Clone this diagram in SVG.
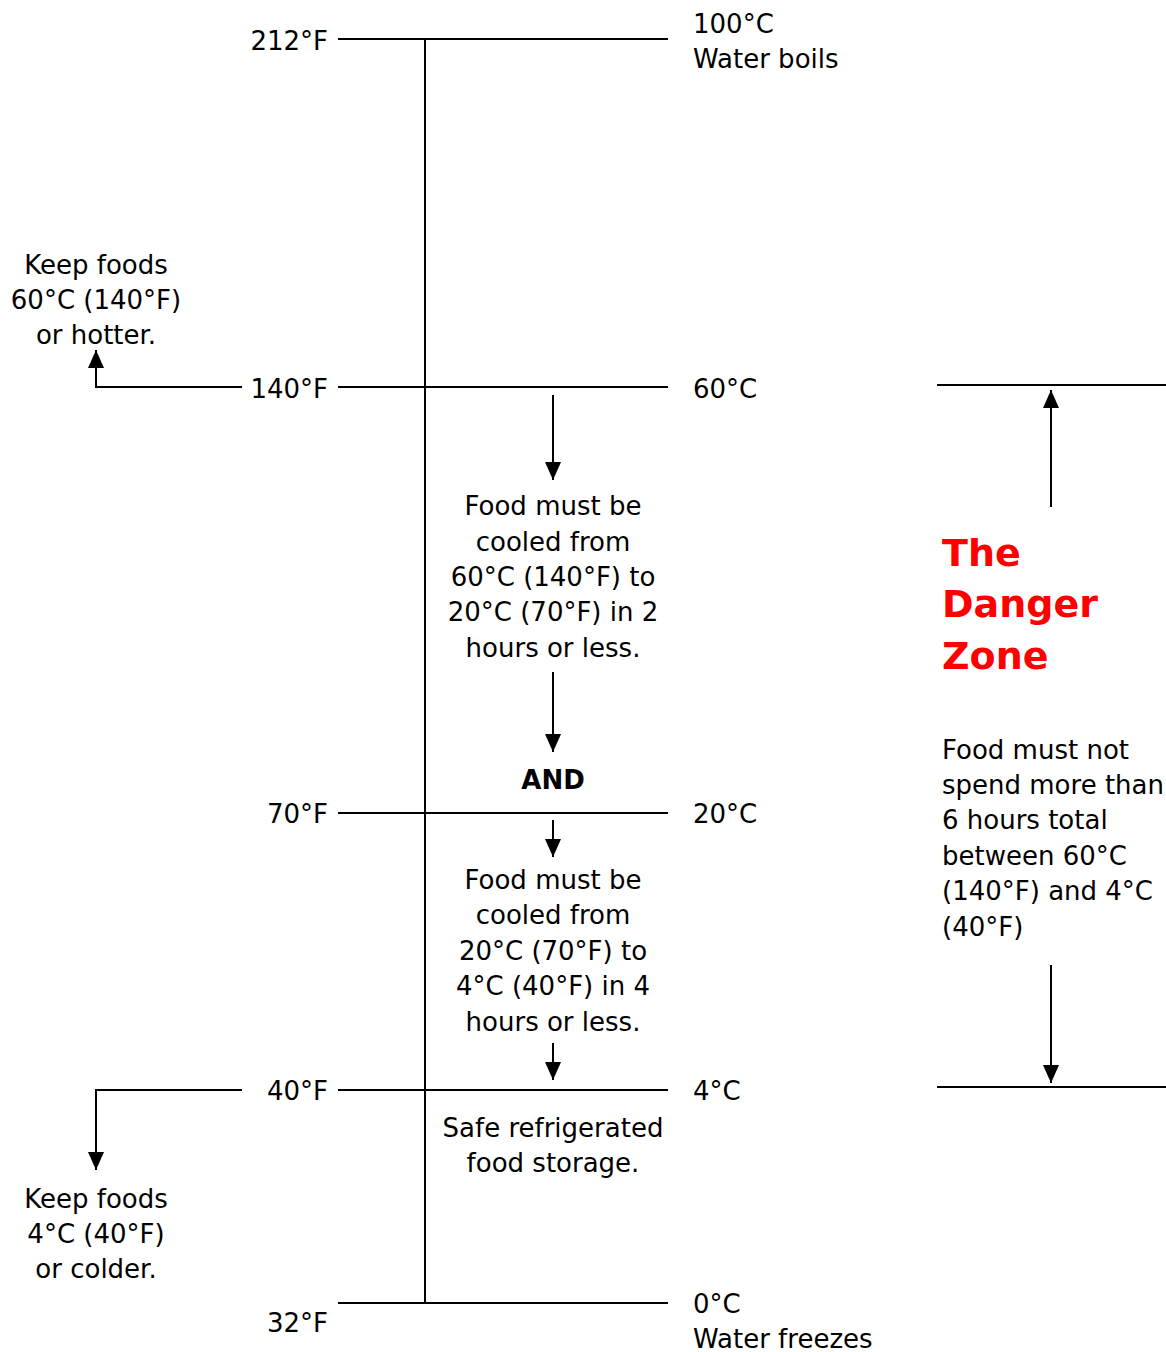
<svg xmlns="http://www.w3.org/2000/svg" width="1166" height="1352" viewBox="0 0 1166 1352">
<style>
.t{font-family:"DejaVu Sans","Verdana",sans-serif;font-size:26px;fill:#000}
.c{text-anchor:middle}
.r{text-anchor:end}
.b{font-weight:bold}
.red{font-family:"DejaVu Sans",sans-serif;font-size:38px;font-weight:bold;fill:#ff0000}
.ln{stroke:#000;stroke-width:2;fill:none}
.ar{stroke:#000;stroke-width:2;fill:none;marker-end:url(#ah)}
</style>
<defs>
<marker id="ah" markerUnits="userSpaceOnUse" markerWidth="18" markerHeight="16" refX="18" refY="8" orient="auto" viewBox="0 0 18 16">
<path d="M0,0 L18,8 L0,16 Z" fill="#000"/>
</marker>
</defs>
<g id="scale">
<line class="ln" x1="425" y1="39" x2="425" y2="1303"/>
<line class="ln" x1="338" y1="39" x2="668" y2="39"/>
<line class="ln" x1="338" y1="387" x2="668" y2="387"/>
<line class="ln" x1="338" y1="813" x2="668" y2="813"/>
<line class="ln" x1="338" y1="1090" x2="668" y2="1090"/>
<line class="ln" x1="338" y1="1303" x2="668" y2="1303"/>
<line class="ln" x1="937" y1="385" x2="1166" y2="385"/>
<line class="ln" x1="937" y1="1087" x2="1166" y2="1087"/>
</g>
<g id="labels-f">
<text class="t r" x="328" y="50">212°F</text>
<text class="t r" x="328" y="398">140°F</text>
<text class="t r" x="328" y="823">70°F</text>
<text class="t r" x="328" y="1100">40°F</text>
<text class="t r" x="328" y="1332">32°F</text>
</g>
<g id="labels-c">
<text class="t" x="693" y="33">100°C</text>
<text class="t" x="693" y="68">Water boils</text>
<text class="t" x="693" y="398">60°C</text>
<text class="t" x="693" y="823">20°C</text>
<text class="t" x="693" y="1100">4°C</text>
<text class="t" x="693" y="1313">0°C</text>
<text class="t" x="693" y="1348">Water freezes</text>
</g>
<g id="keep-hot">
<text class="t c" x="96" y="274">Keep foods</text>
<text class="t c" x="96" y="309">60°C (140°F)</text>
<text class="t c" x="96" y="344">or hotter.</text>
</g>
<g id="keep-cold">
<text class="t c" x="96" y="1208">Keep foods</text>
<text class="t c" x="96" y="1243">4°C (40°F)</text>
<text class="t c" x="96" y="1278">or colder.</text>
</g>
<g id="cool-1">
<text class="t c" x="553" y="515">Food must be</text>
<text class="t c" x="553" y="551">cooled from</text>
<text class="t c" x="553" y="586">60°C (140°F) to</text>
<text class="t c" x="553" y="621">20°C (70°F) in 2</text>
<text class="t c" x="553" y="657">hours or less.</text>
</g>
<g id="and">
<text class="t c b" x="553" y="789">AND</text>
</g>
<g id="cool-2">
<text class="t c" x="553" y="889">Food must be</text>
<text class="t c" x="553" y="924">cooled from</text>
<text class="t c" x="553" y="960">20°C (70°F) to</text>
<text class="t c" x="553" y="995">4°C (40°F) in 4</text>
<text class="t c" x="553" y="1031">hours or less.</text>
</g>
<g id="safe">
<text class="t c" x="553" y="1137">Safe refrigerated</text>
<text class="t c" x="553" y="1172">food storage.</text>
</g>
<g id="danger-zone">
<text class="red" x="942" y="566">The</text>
<text class="red" x="942" y="617">Danger</text>
<text class="red" x="942" y="669">Zone</text>
</g>
<g id="danger-note">
<text class="t" x="942" y="759">Food must not</text>
<text class="t" x="942" y="794">spend more than</text>
<text class="t" x="942" y="829">6 hours total</text>
<text class="t" x="942" y="865">between 60°C</text>
<text class="t" x="942" y="900">(140°F) and 4°C</text>
<text class="t" x="942" y="936">(40°F)</text>
</g>
<g id="connectors">
<polyline class="ar" points="242,387 96,387 96,350"/>
<polyline class="ar" points="242,1090 96,1090 96,1170"/>
<line class="ar" x1="553" y1="395" x2="553" y2="480"/>
<line class="ar" x1="553" y1="672" x2="553" y2="752"/>
<line class="ar" x1="553" y1="820" x2="553" y2="857"/>
<line class="ar" x1="553" y1="1043" x2="553" y2="1080"/>
<line class="ar" x1="1051" y1="507" x2="1051" y2="390"/>
<line class="ar" x1="1051" y1="965" x2="1051" y2="1083"/>
</g>
</svg>
